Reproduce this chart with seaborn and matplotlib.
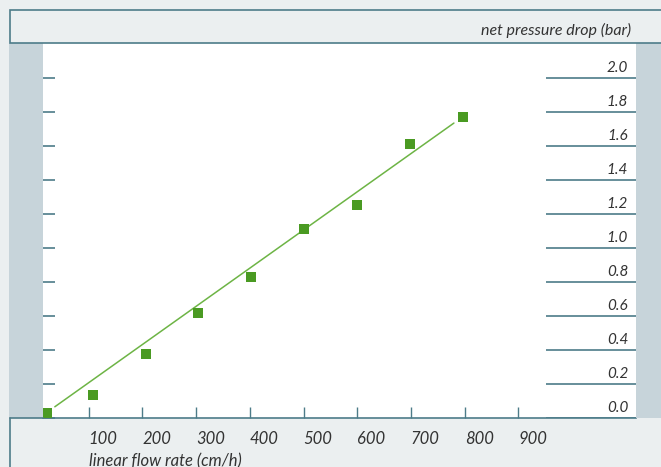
import matplotlib
matplotlib.use('Agg')
import matplotlib.pyplot as plt
import seaborn as sns
import pandas as pd
from matplotlib.patches import Rectangle
from matplotlib.lines import Line2D

# values
flow_rate = [22, 108, 207, 304, 402, 501, 600, 698, 797]
pressure_drop = [0.03, 0.135, 0.376, 0.618, 0.829, 1.112, 1.253, 1.612, 1.771]
fit_x = [37, 780]
fit_y = [0.066, 1.735]
x_ticks = [100, 200, 300, 400, 500, 600, 700, 800, 900]
y_ticks = [0.0, 0.2, 0.4, 0.6, 0.8, 1.0, 1.2, 1.4, 1.6, 1.8, 2.0]
y_labels = ['0.0', '0.2', '0.4', '0.6', '0.8', '1.0', '1.2', '1.4', '1.6', '1.8', '2.0']

sns.set_style('white')
plt.rcParams['font.family'] = ['Lato', 'DejaVu Sans']

bg = '#ebeff0'
side = '#c7d4da'
teal = '#4d7c89'
green = '#4a9a22'
line_green = '#6db445'

W, H = 661, 467
fig = plt.figure(figsize=(W / 100, H / 100), dpi=100)
fig.patch.set_facecolor(bg)

# frame pieces around the plot area
fig.patches.append(Rectangle((9 / W, 1 - 418 / H), 34 / W, 375 / H, transform=fig.transFigure,
                             fc=side, ec='none', zorder=0))
fig.patches.append(Rectangle((636 / W, 1 - 418 / H), 30 / W, 375 / H, transform=fig.transFigure,
                             fc=side, ec='none', zorder=0))
fig.patches.append(Rectangle((9.5 / W, 1 - 43 / H), 660 / W, 33 / H, transform=fig.transFigure,
                             fc=bg, ec=teal, lw=1.2, zorder=0))
fig.lines.append(Line2D([9.5 / W, 9.5 / W], [1 - 418 / H, 0], transform=fig.transFigure,
                        color=teal, lw=1.2))
fig.lines.append(Line2D([9.5 / W, 43 / W], [1 - 418 / H, 1 - 418 / H], transform=fig.transFigure,
                        color=teal, lw=1.2))

ax = fig.add_axes([43 / W, 1 - 418 / H, 593 / W, 375 / H])
ax.set_facecolor('white')

df = pd.DataFrame({'flow': flow_rate, 'dp': pressure_drop})
fit = pd.DataFrame({'flow': fit_x, 'dp': fit_y})
sns.lineplot(data=fit, x='flow', y='dp', color=line_green, lw=1.1, ax=ax, zorder=2)
sns.scatterplot(data=df, x='flow', y='dp', marker='s', s=52, color=green, edgecolor='none',
                ax=ax, zorder=3, clip_on=False)

ax.set_xlim(15, 1119)
ax.set_ylim(0, 2.206)
ax.set_xlabel('')
ax.set_ylabel('')

for s in ['left', 'top', 'right']:
    ax.spines[s].set_visible(False)
ax.spines['bottom'].set_color(teal)
ax.spines['bottom'].set_linewidth(1.2)

ax.set_xticks(x_ticks)
ax.set_xticklabels([str(v) for v in x_ticks], fontstyle='italic', fontsize=12, color='#333333')
for lbl in ax.get_xticklabels():
    lbl.set_horizontalalignment('left')
ax.tick_params(axis='x', direction='in', length=8, width=1, color=teal, pad=9, bottom=True)

ax.set_yticks(y_ticks)
ax.set_yticklabels([])
ax.tick_params(axis='y', direction='in', length=8.5, width=1.2, color=teal, left=True)

# right-hand scale: line under each label
ax.hlines(y_ticks, 0.848, 1.0, transform=ax.get_yaxis_transform(), color=teal, lw=1.2)
for v, t in zip(y_ticks, y_labels):
    ax.annotate(t, xy=(0.987, v), xycoords=('axes fraction', 'data'), xytext=(0, 2),
                textcoords='offset points', ha='right', va='bottom',
                fontstyle='italic', fontsize=11, color='#333333')

fig.text(631 / W, 1 - 30 / H, 'net pressure drop (bar)', ha='right', va='center',
         fontstyle='italic', fontsize=11.5, color='#333333')
fig.text(89 / W, 1 - 461 / H, 'linear flow rate (cm/h)', ha='left', va='center',
         fontstyle='italic', fontsize=12, color='#333333')

fig.savefig('out.png', dpi=100, facecolor=fig.get_facecolor())
